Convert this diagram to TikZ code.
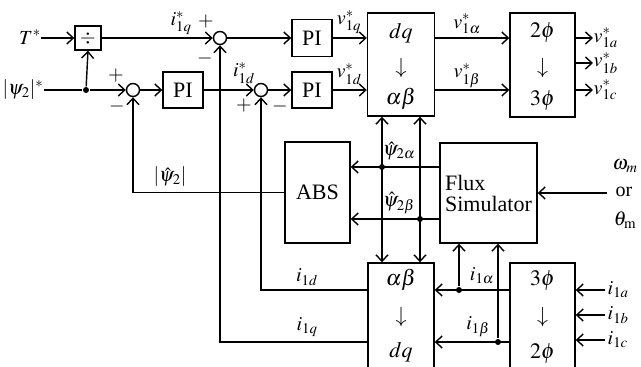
\documentclass[tikz,border=0pt]{standalone}
\usepackage{mathptmx}
\usepackage{fontspec}
\setmainfont{Liberation Serif}
\usetikzlibrary{arrows.meta}
\begin{document}
\begin{tikzpicture}[x=1pt,y=-1pt,line width=1.4pt,
  >={Straight Barb[length=6.5pt,width=12pt]},
  blk/.style={draw,inner sep=0pt,font=\fontsize{22}{24}\selectfont},
  btxt/.style={inner sep=0pt,font=\fontsize{22}{24}\selectfont},
  sumc/.style={draw,circle,minimum size=13pt,inner sep=0pt},
  lbl/.style={inner sep=0pt,font=\fontsize{20}{22}\selectfont},
  dotc/.style={circle,fill,inner sep=0pt,minimum size=6pt}]
\useasboundingbox (0,0) rectangle (641,367);
% ---- inputs
\node[lbl] (T) at (30,37) {$T^{*}$};
\node[lbl] (psi) at (23,90) {$|\psi_2|^{*}$};
\node[draw,minimum width=26pt,minimum height=24pt,inner sep=0pt,font=\fontsize{20}{22}\selectfont] (div) at (88,38) {$\div$};
\node[dotc] (d1) at (86,90) {};
% ---- summing junctions and PI
\node[sumc] (s1) at (133,90) {};
\node[sumc] (s2) at (220,38) {};
\node[sumc] (s3) at (261,90) {};
\node[blk,minimum width=40pt,minimum height=36pt] (pi1) at (183,90) {PI};
\node[blk,minimum width=40pt,minimum height=37pt] (pi2) at (312,38) {PI};
\node[blk,minimum width=40pt,minimum height=36pt] (pi3) at (312,90) {PI};
% ---- transformation blocks
\node[draw,minimum width=67pt,minimum height=103pt] (dqab) at (401,64.5) {};
\node[btxt] (dqab1) at (401,33) {$dq$};
\node[btxt] (dqab2) at (401,68) {$\downarrow$};
\node[btxt] (dqab3) at (401,99) {$\alpha\beta$};
\node[draw,minimum width=65pt,minimum height=104pt] (p23) at (542.5,65) {};
\node[btxt] (p231) at (542.5,33) {$2\phi$};
\node[btxt] (p232) at (542.5,68) {$\downarrow$};
\node[btxt] (p233) at (542.5,101) {$3\phi$};
\node[draw,minimum width=66pt,minimum height=106pt] (abdq) at (401,316) {};
\node[btxt] (abdq1) at (401,280) {$\alpha\beta$};
\node[btxt] (abdq2) at (401,317) {$\downarrow$};
\node[btxt] (abdq3) at (401,352) {$dq$};
\node[draw,minimum width=65pt,minimum height=106pt] (p32) at (542.5,316) {};
\node[btxt] (p321) at (542.5,281) {$3\phi$};
\node[btxt] (p322) at (542.5,317) {$\downarrow$};
\node[btxt] (p323) at (542.5,354) {$2\phi$};
\node[blk,minimum width=65pt,minimum height=101pt] (abs) at (317.5,192.5) {ABS};
\node[blk,minimum width=97pt,minimum height=100pt,align=left] (flux) at (488.5,193) {Flux\\[-3pt]Simulator};
% ---- helper coordinates
\coordinate (ya) at (0,167);
\coordinate (yb) at (0,219);
\coordinate (xa) at (382,0);
\coordinate (xb) at (420,0);
\coordinate (yd) at (0,290);
\coordinate (yq) at (0,342);
\node[dotc] (da) at (382,167) {};
\node[dotc] (db) at (420,219) {};
\node[dotc] (dia) at (459,290) {};
\node[dotc] (dib) at (498,342) {};
% ---- forward path
\draw[->] (div.west -| T.east) -- (div.west);
\draw (psi.east |- s1.west) -- (d1);
\draw[->] (d1) -- (s1.west);
\draw[->] (d1) -- (div.south);
\draw[->] (div.east) -- (s2.west);
\draw[->] (s2.east) -- (pi2.west);
\draw[->] (s1.east) -- (pi1.west);
\draw[->] (pi1.east) -- (s3.west);
\draw[->] (s3.east) -- (pi3.west);
\draw[->] (pi2.east) -- (dqab.west |- pi2.east);
\draw[->] (pi3.east) -- (dqab.west |- pi3.east);
\draw[->] (dqab.east |- pi2.east) -- (p23.west |- pi2.east);
\draw[->] (dqab.east |- pi3.east) -- (p23.west |- pi3.east);
% ---- outputs
\coordinate (oa) at (593,38);
\coordinate (ob) at (593,63);
\coordinate (oc) at (593,90);
\draw[->] (p23.east |- oa) -- (oa);
\draw[->] (p23.east |- ob) -- (ob);
\draw[->] (p23.east |- oc) -- (oc);
\node[lbl,anchor=west] (la) at (593,38) {$v_{1a}^{*}$};
\node[lbl,anchor=west] (lb) at (593,63) {$v_{1b}^{*}$};
\node[lbl,anchor=west] (lc) at (593,90) {$v_{1c}^{*}$};
% ---- feedback
\draw[->] (abs.west) -- (s1.south |- abs.west) -- (s1.south);
\draw[->] (abdq.west |- yq) -- (s2.south |- yq) -- (s2.south);
\draw[->] (abdq.west |- yd) -- (s3.south |- yd) -- (s3.south);
\draw[<->] (dqab.south -| xa) -- (abdq.north -| xa);
\draw[<->] (dqab.south -| xb) -- (abdq.north -| xb);
\draw[->] (flux.west |- ya) -- (abs.east |- ya);
\draw[->] (flux.west |- yb) -- (abs.east |- yb);
\draw[->] (p32.west |- yd) -- (abdq.east |- yd);
\draw[->] (p32.west |- yq) -- (abdq.east |- yq);
\draw[->] (dia) -- (flux.south -| dia);
\draw[->] (dib) -- (flux.south -| dib);
% ---- external inputs
\coordinate (wm) at (607,193);
\draw[->] (wm) -- (flux.east |- wm);
\node[lbl] (lw) at (625,166) {$\omega_m$};
\node[lbl] (lor) at (624,192) {or};
\node[lbl] (lt) at (625,220) {$\theta_{\mathrm{m}}$};
\coordinate (ia) at (605,290);
\coordinate (ibb) at (605,315);
\coordinate (ic) at (605,340);
\draw[->] (ia) -- (p32.east |- ia);
\draw[->] (ibb) -- (p32.east |- ibb);
\draw[->] (ic) -- (p32.east |- ic);
\node[lbl,anchor=west] (lia) at (607,290) {$i_{1a}$};
\node[lbl,anchor=west] (lib) at (607,315) {$i_{1b}$};
\node[lbl,anchor=west] (lic) at (607,340) {$i_{1c}$};
% ---- labels
\node[lbl] (p1) at (116,76) {$+$};
\node[lbl] (m1) at (117,106) {$-$};
\node[lbl] (liq) at (181,23) {$i_{1q}^{*}$};
\node[lbl] (p2) at (206,22) {$+$};
\node[lbl] (m2) at (205,58) {$-$};
\node[lbl] (lid) at (244,73) {$i_{1d}^{*}$};
\node[lbl] (p3) at (244,106) {$+$};
\node[lbl] (m3) at (280,106) {$-$};
\node[lbl] (lvq) at (349,22) {$v_{1q}^{*}$};
\node[lbl] (lvd) at (349,74) {$v_{1d}^{*}$};
\node[lbl] (lva) at (467,24) {$v_{1\alpha}^{*}$};
\node[lbl] (lvb) at (467,76) {$v_{1\beta}^{*}$};
\node[lbl] (lpsi) at (170,177) {$|\hat{\psi}_2|$};
\node[lbl] (lpa) at (399,151) {$\hat{\psi}_{2\alpha}$};
\node[lbl] (lpb) at (399,203) {$\hat{\psi}_{2\beta}$};
\node[lbl] (lid2) at (307,277) {$i_{1d}$};
\node[lbl] (liq2) at (307,327) {$i_{1q}$};
\node[lbl] (lia2) at (482,276) {$i_{1\alpha}$};
\node[lbl] (lib2) at (478,327) {$i_{1\beta}$};
\end{tikzpicture}
\end{document}
